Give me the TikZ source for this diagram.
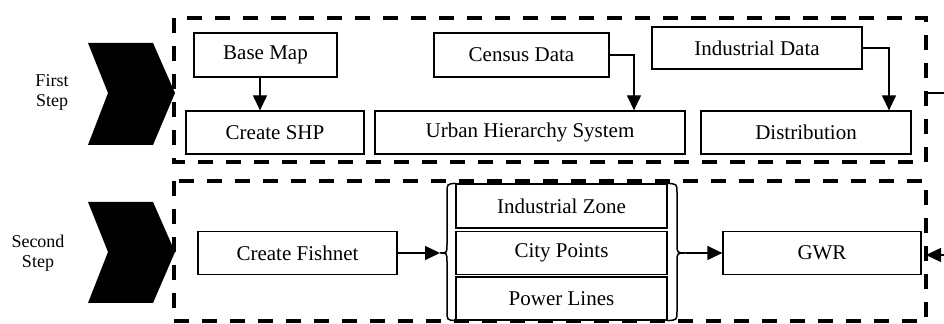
\documentclass[tikz,border=0pt]{standalone}
\usepackage{fontspec}
\setmainfont{Liberation Serif}
\usetikzlibrary{arrows.meta}
\begin{document}
\begin{tikzpicture}[x=0.5pt,y=-0.5pt,
  bx/.style={draw,line width=0.65pt,inner sep=0pt,minimum height=21.5pt,font=\fontsize{10.5}{12}\selectfont},
  frm/.style={line width=2pt,dash pattern=on 7.5pt off 6.5pt},
  arr/.style={line width=0.65pt,-{Triangle[length=7.5pt,width=7pt]}},
  ln/.style={line width=0.75pt},
  lbl/.style={align=center,font=\fontsize{9}{10}\selectfont,inner sep=0pt}]
\useasboundingbox (0,0) rectangle (944,324);
% frames
\draw[frm] (174,18) rectangle (926,162);
\draw[frm] (174,181) rectangle (926,321);
% chevrons
\fill (88,43) -- (153,43) -- (175,93) -- (153,145) -- (88,145) -- (108,93) -- cycle;
\fill (88,202) -- (153,202) -- (175,252) -- (153,303) -- (88,303) -- (108,252) -- cycle;
\node[lbl] (s1) at (52,92) {First\\Step};
\node[lbl] (s2) at (38,253) {Second\\Step};
% first step boxes
\node[bx,fill=white,minimum width=71.5pt,minimum height=22pt] (bm) at (265.5,55) {Base Map};
\node[bx,minimum width=89pt] (shp) at (275,132.5) {Create SHP};
\node[bx,minimum width=87.5pt,minimum height=22pt] (cd) at (521.5,55) {Census Data};
\node[bx,minimum width=155pt] (uh) at (530,132.5) {Urban Hierarchy System};
\node[bx,minimum width=105pt,minimum height=21pt] (id) at (757,48) {Industrial Data};
\node[bx,minimum width=105pt] (dist) at (806,132.5) {Distribution};
\draw[arr] ([xshift=-2.75pt]bm.south) -- ([xshift=-2.75pt]bm.south |- shp.north);
\draw[arr] (cd.east) -| ([xshift=52pt]uh.north);
\draw[arr] (id.east) -| ([xshift=41.5pt]dist.north);
% second step boxes
\node[bx,minimum width=99.5pt] (cf) at (297.5,253) {Create Fishnet};
\node[bx,minimum width=105.5pt,minimum height=22pt] (iz) at (561.5,206) {Industrial Zone};
\node[bx,minimum width=105.5pt] (cp) at (561.5,253) {City Points};
\node[bx,minimum width=105.5pt] (pl) at (561.5,298.5) {Power Lines};
\node[bx,minimum width=99pt] (gwr) at (822,253) {GWR};
% braces
\coordinate (bl) at (440,253);
\coordinate (br) at (686,253);
\draw[ln] (iz.north west) .. controls (447,184) .. (447,193) -- (447,244) .. controls (447,253) .. (bl) .. controls (447,253) .. (447,262) -- (447,311) .. controls (447,320) .. (pl.south west);
\draw[ln] (iz.north east) .. controls (677,184) .. (677,193) -- (677,244) .. controls (677,253) .. (br) .. controls (677,253) .. (677,262) -- (677,311) .. controls (677,320) .. (pl.south east);
\draw[arr] (cf.east) -- (bl);
\draw[arr] (br) -- (gwr.west);
% link between steps (runs off the right edge)
\coordinate (r1) at (926,93);
\coordinate (r2) at (926,255);
\draw[arr] (r1) -- (980,93) |- (r2);
\end{tikzpicture}
\end{document}
